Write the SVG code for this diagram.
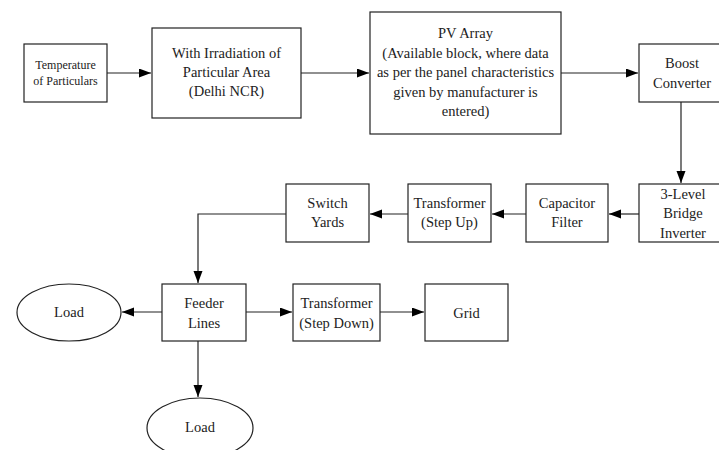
<svg xmlns="http://www.w3.org/2000/svg" width="719" height="450" viewBox="0 0 719 450">
<style>
.box{fill:#fff;stroke:#222;stroke-width:1.2}
text{font-family:'Liberation Serif','Times New Roman',Times,serif;font-size:14.5px;fill:#222;text-anchor:middle}
.s{font-size:12px}
.c{fill:none;stroke:#222;stroke-width:1.2}
</style>
<defs>
<marker id="ah" markerUnits="userSpaceOnUse" markerWidth="13" markerHeight="10" refX="12" refY="4.5" orient="auto">
<path d="M0,0 L12,4.5 L0,9 z" fill="#000"/>
</marker>
</defs>
<rect width="719" height="450" fill="#fff"/>
<g id="connectors">
<path class="c" d="M107,73 H151" marker-end="url(#ah)"/>
<path class="c" d="M301,73 H369" marker-end="url(#ah)"/>
<path class="c" d="M561,73 H638" marker-end="url(#ah)"/>
<path class="c" d="M681,102 V183" marker-end="url(#ah)"/>
<path class="c" d="M639,214 H609" marker-end="url(#ah)"/>
<path class="c" d="M526,214 H492" marker-end="url(#ah)"/>
<path class="c" d="M408,214 H370" marker-end="url(#ah)"/>
<path class="c" d="M286,214 H198 V283" marker-end="url(#ah)"/>
<path class="c" d="M162,312 H122" marker-end="url(#ah)"/>
<path class="c" d="M246,312 H292" marker-end="url(#ah)"/>
<path class="c" d="M380,312 H424" marker-end="url(#ah)"/>
<path class="c" d="M198,341 V397" marker-end="url(#ah)"/>
</g>
<g font-family="Liberation Serif, Times New Roman, serif">
<g id="temperature">
<rect class="box" x="24" y="44" width="83" height="58"/>
<text class="s" x="65.5" y="69">Temperature</text>
<text class="s" x="65.5" y="85">of Particulars</text>
</g>
<g id="irradiation">
<rect class="box" x="152" y="28" width="149" height="90"/>
<text x="226.5" y="58">With Irradiation of</text>
<text x="226.5" y="77">Particular Area</text>
<text x="226.5" y="96">(Delhi NCR)</text>
</g>
<g id="pv-array">
<rect class="box" x="370" y="12" width="191" height="122"/>
<text x="465.5" y="38">PV Array</text>
<text x="465.5" y="58">(Available block, where data</text>
<text x="465.5" y="77">as per the panel characteristics</text>
<text x="465.5" y="97">given by manufacturer is</text>
<text x="465.5" y="116">entered)</text>
</g>
<g id="boost">
<rect class="box" x="639" y="44" width="86" height="58"/>
<text x="682" y="68">Boost</text>
<text x="682" y="88">Converter</text>
</g>
<g id="inverter">
<rect class="box" x="639" y="184" width="86" height="58"/>
<text x="683" y="198.5">3-Level</text>
<text x="683" y="218">Bridge</text>
<text x="683" y="237.5">Inverter</text>
</g>
<g id="capacitor">
<rect class="box" x="526" y="184" width="82" height="58"/>
<text x="567" y="208">Capacitor</text>
<text x="567" y="227">Filter</text>
</g>
<g id="transformer-up">
<rect class="box" x="408" y="184" width="83" height="58"/>
<text x="449.5" y="208">Transformer</text>
<text x="449.5" y="227">(Step Up)</text>
</g>
<g id="switch-yards">
<rect class="box" x="286" y="184" width="83" height="58"/>
<text x="327.5" y="208">Switch</text>
<text x="327.5" y="227">Yards</text>
</g>
<g id="feeder">
<rect class="box" x="162" y="284" width="84" height="57"/>
<text x="204" y="308">Feeder</text>
<text x="204" y="328">Lines</text>
</g>
<g id="transformer-down">
<rect class="box" x="293" y="284" width="87" height="57"/>
<text x="336.5" y="308">Transformer</text>
<text x="336.5" y="328">(Step Down)</text>
</g>
<g id="grid">
<rect class="box" x="425" y="284" width="83" height="57"/>
<text x="466.5" y="318">Grid</text>
</g>
<g id="load-left">
<ellipse class="box" cx="69" cy="312.5" rx="52" ry="28.5"/>
<text x="69" y="317">Load</text>
</g>
<g id="load-bottom">
<ellipse class="box" cx="200" cy="428" rx="53" ry="30"/>
<text x="200" y="432">Load</text>
</g>
</g>
</svg>
